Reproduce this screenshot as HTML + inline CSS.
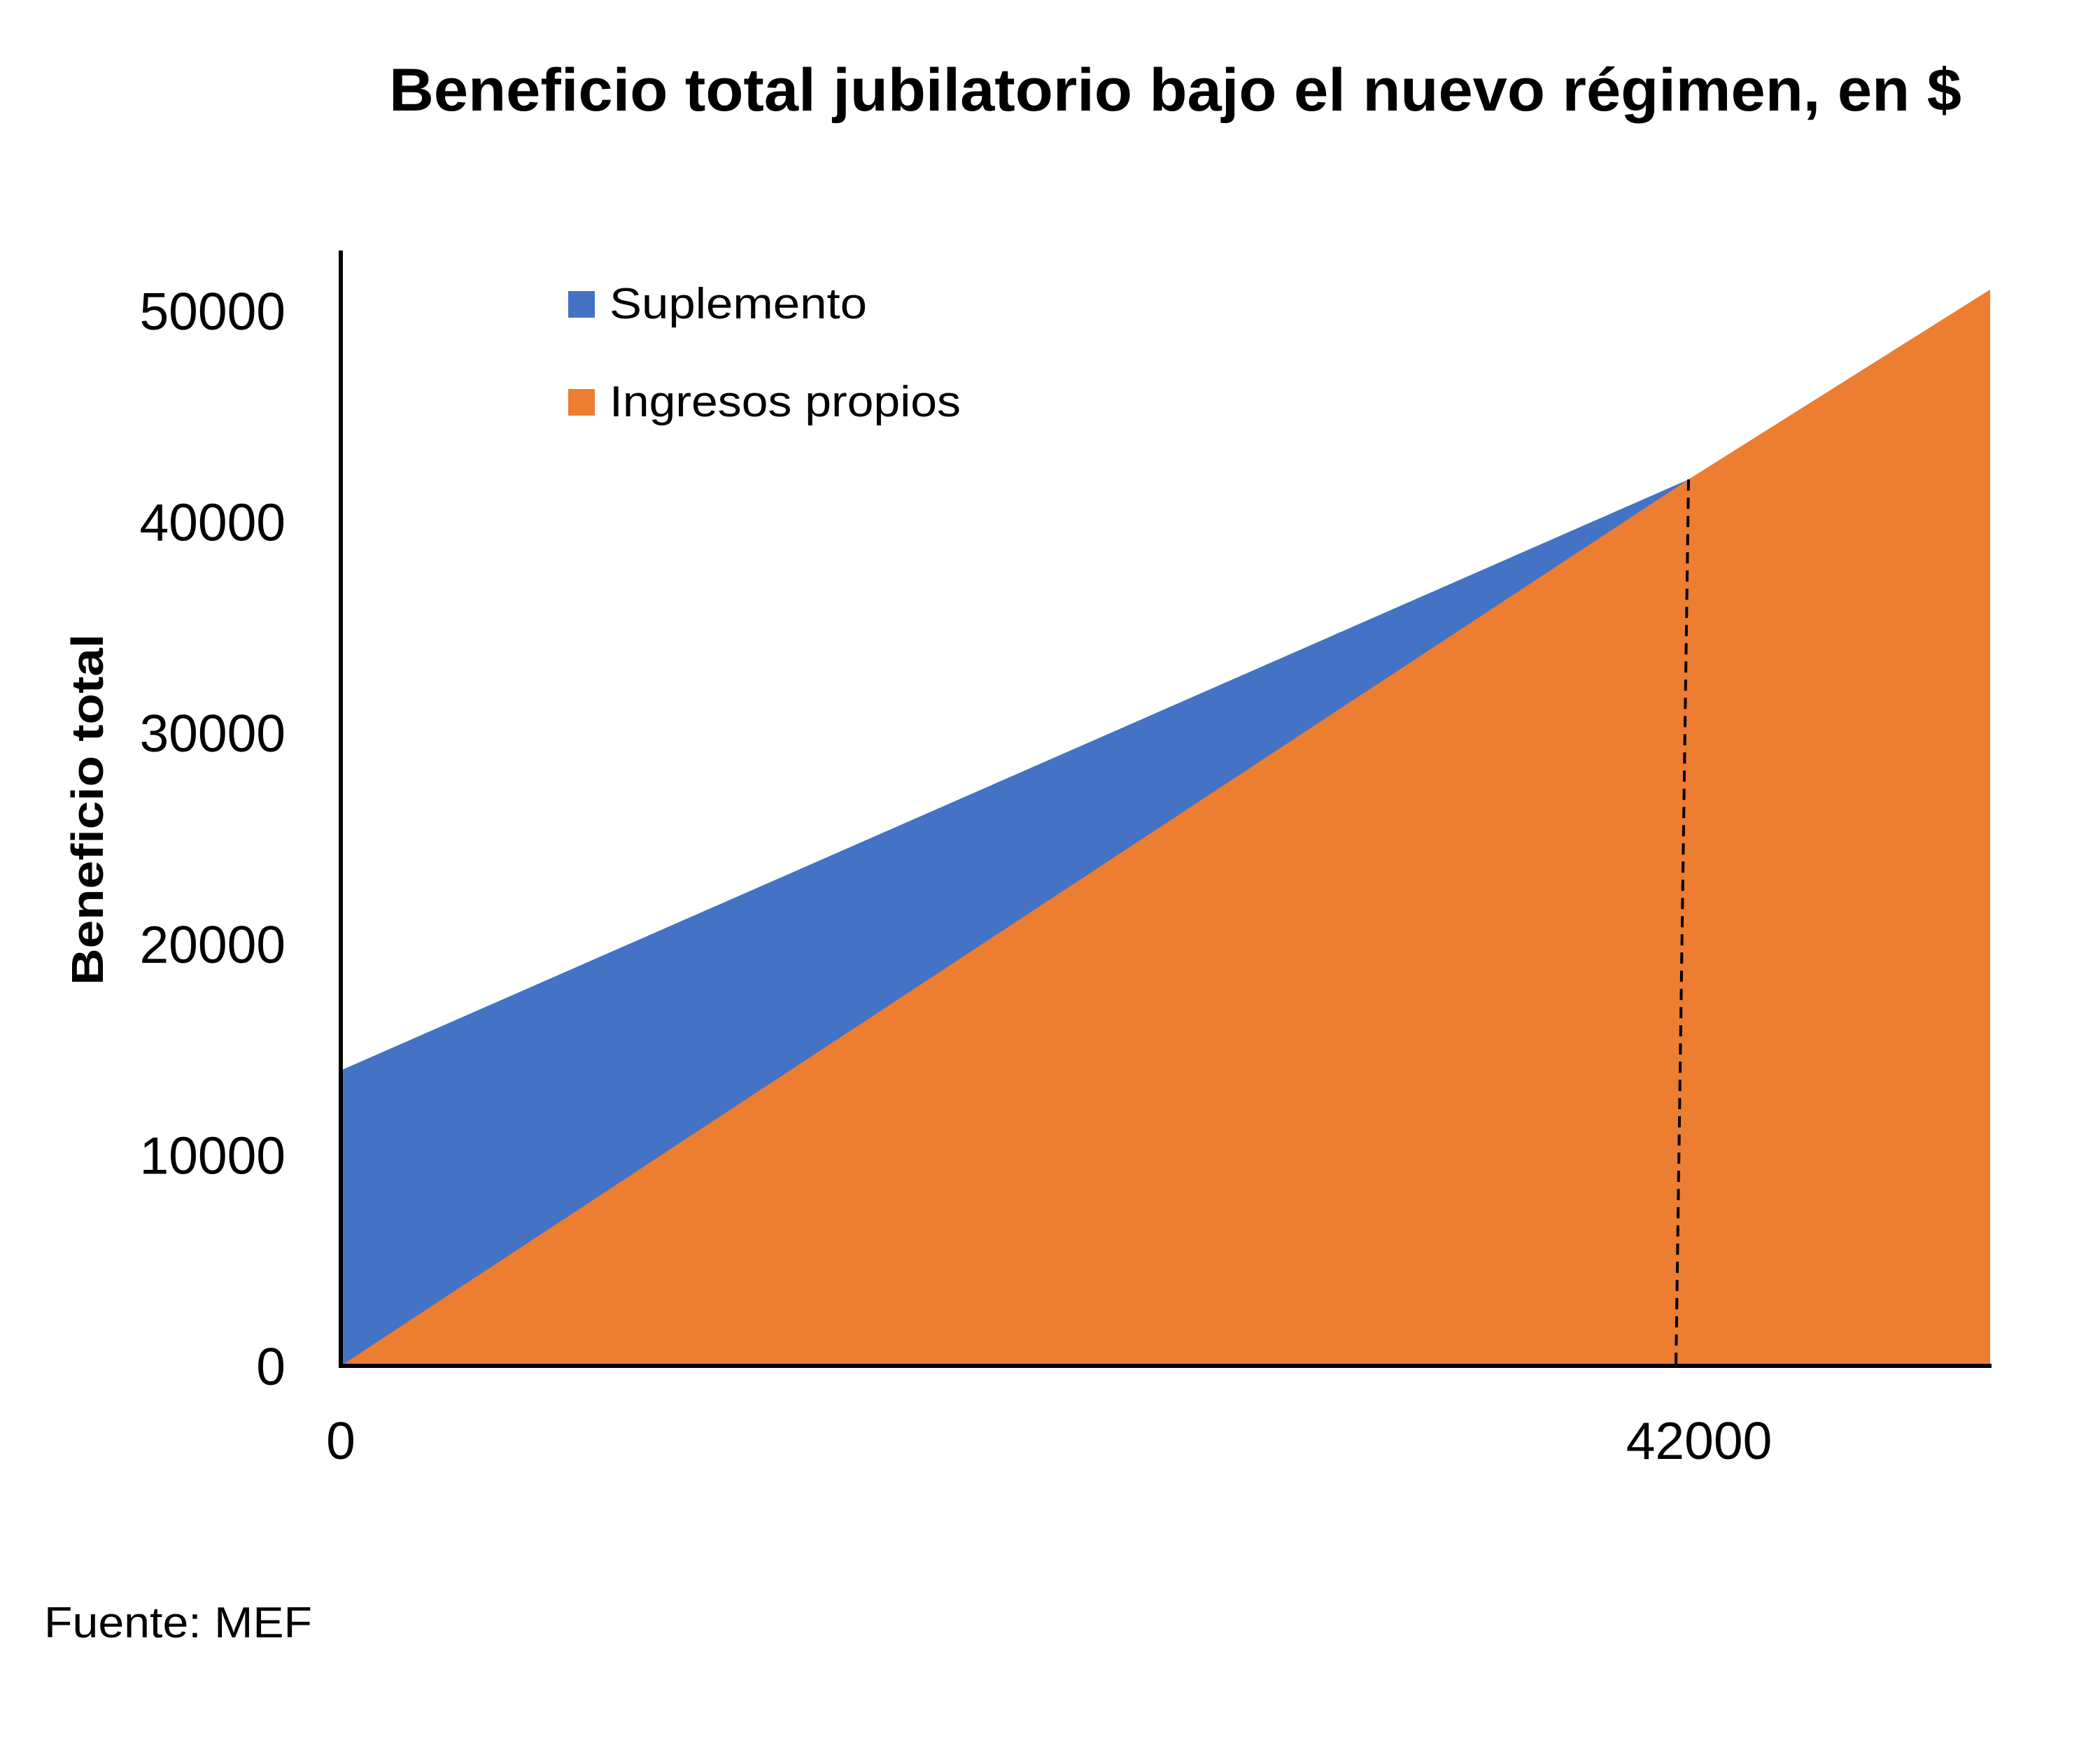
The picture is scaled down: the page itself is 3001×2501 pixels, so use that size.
<!DOCTYPE html>
<html><head><meta charset="utf-8"><style>html,body{margin:0;padding:0;background:#fff}svg{display:block}</style></head>
<body>
<svg id="chart" xmlns="http://www.w3.org/2000/svg" width="3001" height="2501" viewBox="0 0 3001 2501" font-family="'Liberation Sans', sans-serif">
<rect width="3001" height="2501" fill="#fff"/>
<text x="556" y="158" font-size="86" font-weight="bold" textLength="2247" lengthAdjust="spacingAndGlyphs">Beneficio total jubilatorio bajo el nuevo régimen, en $</text>
<g id="areas"></g>
<g id="axes"></g>
<g>
<rect x="812" y="416" width="38" height="38" fill="#4472C4"/>
<text x="871" y="455" font-size="62" textLength="368" lengthAdjust="spacingAndGlyphs">Suplemento</text>
<rect x="812" y="556" width="38" height="38" fill="#ED7D31"/>
<text x="871" y="595" font-size="62" textLength="502" lengthAdjust="spacingAndGlyphs">Ingresos propios</text>
</g>
<text transform="translate(147,1157) rotate(-90)" text-anchor="middle" font-size="64" font-weight="bold" textLength="502" lengthAdjust="spacingAndGlyphs">Beneficio total</text>
<text x="63" y="2340" font-size="62" textLength="383" lengthAdjust="spacingAndGlyphs">Fuente: MEF</text>
</svg>
<script>
const xValues = [0, 42000, 51400];
const ownIncome = [0, 42000, 51000];
const totalBenefit = [14000, 42000, 51000];
const yTicks = [0, 10000, 20000, 30000, 40000, 50000];
const xTicks = [0, 42000];
const thresholdX = 42000;

const X0 = 487, Y0 = 1952;
const sx = v => X0 + v * (2413 - X0) / 42000;
const sy = v => Y0 - v * (1952 - 444) / 50000;
const NS = 'http://www.w3.org/2000/svg';
const areas = document.getElementById('areas');
const axes = document.getElementById('axes');

function poly(vals, fill, name) {
  let pts = xValues.map((x, i) => sx(x) + ',' + sy(vals[i]));
  pts.push(sx(xValues[xValues.length - 1]) + ',' + sy(0));
  pts.push(sx(xValues[0]) + ',' + sy(0));
  const p = document.createElementNS(NS, 'polygon');
  p.setAttribute('points', pts.join(' '));
  p.setAttribute('fill', fill);
  
  
  areas.appendChild(p);
}
poly(totalBenefit, '#4472C4', 'area-suplemento');
poly(ownIncome, '#ED7D31', 'area-ingresos-propios');

const dash = document.createElementNS(NS, 'line');
dash.setAttribute('x1', sx(thresholdX)); dash.setAttribute('y1', sy(thresholdX));
dash.setAttribute('x2', sx(thresholdX) - 18); dash.setAttribute('y2', sy(0));
dash.setAttribute('stroke', '#000'); dash.setAttribute('stroke-width', '4');
dash.setAttribute('stroke-dasharray', '16,10');


areas.appendChild(dash);

const ya = document.createElementNS(NS, 'line');
ya.setAttribute('x1', X0); ya.setAttribute('y1', 358); ya.setAttribute('x2', X0); ya.setAttribute('y2', Y0 + 3);
ya.setAttribute('stroke', '#000'); ya.setAttribute('stroke-width', '6');


axes.appendChild(ya);
const xa = document.createElementNS(NS, 'line');
xa.setAttribute('x1', X0 - 3); xa.setAttribute('y1', Y0); xa.setAttribute('x2', 2846); xa.setAttribute('y2', Y0);
xa.setAttribute('stroke', '#000'); xa.setAttribute('stroke-width', '6');


axes.appendChild(xa);

yTicks.forEach(v => {
  const t = document.createElementNS(NS, 'text');
  t.setAttribute('x', 408); t.setAttribute('y', sy(v) + 27);
  t.setAttribute('text-anchor', 'end'); t.setAttribute('font-size', '75');
  t.textContent = v;
  
  
  axes.appendChild(t);
});
xTicks.forEach(v => {
  const t = document.createElementNS(NS, 'text');
  t.setAttribute('x', sx(v) + (v ? 15 : 0)); t.setAttribute('y', 2085);
  t.setAttribute('text-anchor', 'middle'); t.setAttribute('font-size', '75');
  t.textContent = v;
  
  
  axes.appendChild(t);
});
</script>
</body></html>
